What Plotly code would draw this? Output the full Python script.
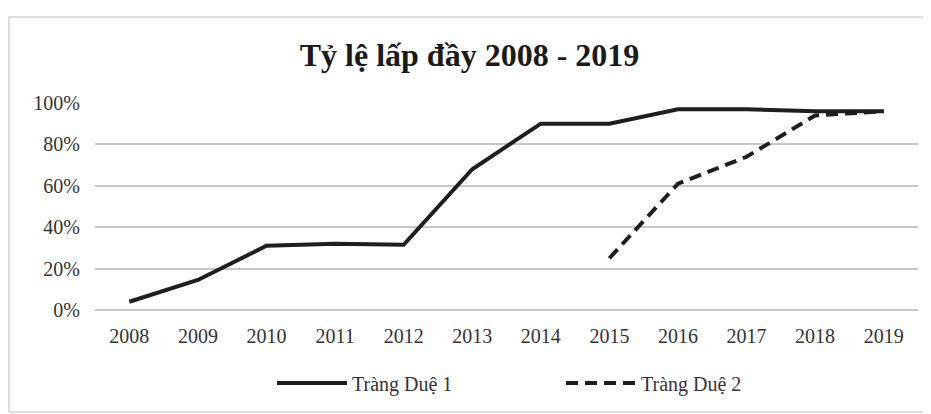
import plotly.graph_objects as go

years = ["2008", "2009", "2010", "2011", "2012", "2013", "2014", "2015", "2016", "2017", "2018", "2019"]
trang_due_1 = [0.04, 0.145, 0.31, 0.32, 0.315, 0.68, 0.90, 0.90, 0.97, 0.97, 0.96, 0.96]
years_2 = ["2015", "2016", "2017", "2018", "2019"]
trang_due_2 = [0.25, 0.61, 0.74, 0.94, 0.96]
y_ticks = [0, 0.2, 0.4, 0.6, 0.8, 1.0]
y_tick_labels = ["0%", "20%", "40%", "60%", "80%", "100%"]

FONT = "Liberation Serif, Times New Roman, serif"
W, H = 923, 406  # page body has an 8px margin

fig = go.Figure()
fig.add_trace(go.Scatter(x=years, y=trang_due_1, mode="lines", name="Tràng Duệ 1",
                         line=dict(color="#1e1e1e", width=4)))
fig.add_trace(go.Scatter(x=years_2, y=trang_due_2, mode="lines", name="Tràng Duệ 2",
                         line=dict(color="#1e1e1e", width=4, dash="12px,7px")))

fig.update_layout(
    width=W, height=H,
    margin=dict(l=87, r=13, t=95, b=104, autoexpand=False),
    paper_bgcolor="white", plot_bgcolor="white",
    font=dict(family=FONT, color="#333333", size=20),
    title=dict(text="<b>Tỷ lệ lấp đầy 2008 - 2019</b>", x=0.5, xanchor="center",
               y=1 - 47 / H, yanchor="middle", yref="container",
               font=dict(family=FONT, size=32, color="#1a1a1a")),
    xaxis=dict(type="category", categoryorder="array", categoryarray=years,
               range=[-0.5, 11.5],
               showgrid=False, showline=False, ticks="", ticklabelstandoff=12,
               tickfont=dict(size=20, color="#333333")),
    yaxis=dict(range=[0, 1.0], tickvals=y_ticks, ticktext=y_tick_labels,
               showgrid=True, gridcolor="#c8c8c8", gridwidth=1.5,
               zeroline=True, zerolinecolor="#c8c8c8", zerolinewidth=1.5,
               showline=False, ticks="", ticklabelstandoff=14,
               tickfont=dict(size=20, color="#333333")),
    showlegend=True,
    legend=dict(orientation="h", xref="container", x=(272 - 8) / W, xanchor="left",
                yref="container", y=31 / H, yanchor="middle",
                font=dict(size=20, color="#333333"), itemwidth=70,
                entrywidth=204, entrywidthmode="pixels",
                bgcolor="rgba(0,0,0,0)"),
    shapes=[dict(type="rect", xref="paper", yref="paper",
                 x0=(9 - 95) / 823, x1=(929 - 95) / 823,
                 y0=(310 - 412) / 207, y1=(310 - 17) / 207,
                 line=dict(color="#d4d4d4", width=1.5), layer="below")],
)

fig.write_html("out.html")
